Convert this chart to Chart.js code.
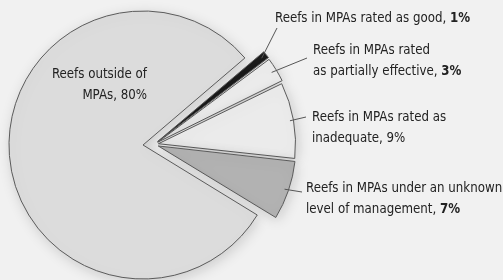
<!DOCTYPE html>
<html>
<head>
<meta charset="utf-8">
<script src="https://cdn.jsdelivr.net/npm/chart.js@4"></script>
<style>
  html, body { margin: 0; padding: 0; background: #f1f1f1; }
  #wrap { width: 503px; height: 280px; }
</style>
</head>
<body>
<div id="wrap"><canvas id="reefChart" width="503" height="280"></canvas></div>
<script>
// --- DATA ---
const categories = [
  "Reefs in MPAs rated as good",
  "Reefs in MPAs rated as partially effective",
  "Reefs in MPAs rated as inadequate",
  "Reefs in MPAs under an unknown level of management",
  "Reefs outside of MPAs"
];
const shares = [1, 3, 9, 7, 80];
const labelLines = [
  ["Reefs in MPAs rated as good, "],
  ["Reefs in MPAs rated", "as partially effective, "],
  ["Reefs in MPAs rated as", "inadequate, "],
  ["Reefs in MPAs under an unknown", "level of management, "],
  ["Reefs outside of", "MPAs, "]
];
const boldPercent = [true, true, false, true, false];

// --- STYLE ---
const sliceColors = ['#1e1e1e', '#ececec', '#ebebeb', '#b2b2b2', '#dcdcdc'];
const FONT = '"Liberation Sans Narrow", "DejaVu Sans Condensed", sans-serif';
const SQUEEZE = 0.94; // condensed look

// label anchor (x, first line center y, align) and leader end point
const labelPos = [
  { x: 275, y: 18, align: 'left', lead: [277, 28] },
  { x: 313, y: 50, align: 'left', lead: [307, 58] },
  { x: 312, y: 117, align: 'left', lead: [306, 117] },
  { x: 306, y: 188, align: 'left', lead: [302, 192] },
  { x: 147, y: 74, align: 'right', lead: null }
];

// move the four MPA slices out as one group
const explodeGroup = {
  id: 'explodeGroup',
  afterDatasetsUpdate(chart) {
    chart.getDatasetMeta(0).data.forEach((arc, i) => {
      if (i < 4) { arc.x += 11; arc.y -= 0.5; arc.outerRadius += 1; }
    });
  }
};

const softShadow = {
  id: 'softShadow',
  beforeDatasetsDraw(chart) {
    const ctx = chart.ctx;
    ctx.save();
    ctx.shadowColor = 'rgba(0,0,0,0.16)';
    ctx.shadowBlur = 14;
    ctx.shadowOffsetX = 2;
    ctx.shadowOffsetY = 3;
  },
  afterDatasetsDraw(chart) {
    chart.ctx.restore();
  }
};

function drawText(ctx, txt, x, y, bold) {
  ctx.font = (bold ? 'bold ' : '') + '14px ' + FONT;
  ctx.save();
  ctx.translate(x, y);
  ctx.scale(SQUEEZE, 1);
  ctx.fillText(txt, 0, 0);
  ctx.restore();
  return ctx.measureText(txt).width * SQUEEZE;
}

function textWidth(ctx, txt, bold) {
  ctx.font = (bold ? 'bold ' : '') + '14px ' + FONT;
  return ctx.measureText(txt).width * SQUEEZE;
}

const sliceLabels = {
  id: 'sliceLabels',
  afterDraw(chart) {
    const ctx = chart.ctx;
    const arcs = chart.getDatasetMeta(0).data;
    ctx.save();
    ctx.textBaseline = 'middle';
    ctx.fillStyle = '#222';
    ctx.strokeStyle = '#555';
    ctx.lineWidth = 1;
    labelLines.forEach((lines, i) => {
      const pos = labelPos[i];
      if (pos.lead) {
        const arc = arcs[i];
        const mid = (arc.startAngle + arc.endAngle) / 2;
        const r = arc.outerRadius + 3;
        ctx.beginPath();
        ctx.moveTo(arc.x + Math.cos(mid) * r, arc.y + Math.sin(mid) * r);
        ctx.lineTo(pos.lead[0], pos.lead[1]);
        ctx.stroke();
      }
      lines.forEach((txt, j) => {
        const y = pos.y + j * 21;
        const pct = j === lines.length - 1 ? shares[i] + '%' : '';
        const w = textWidth(ctx, txt, false) + textWidth(ctx, pct, boldPercent[i]);
        const x0 = pos.align === 'right' ? pos.x - w : pos.x;
        const w1 = drawText(ctx, txt, x0, y, false);
        if (pct) drawText(ctx, pct, x0 + w1, y, boldPercent[i]);
      });
    });
    ctx.restore();
  }
};

new Chart(document.getElementById('reefChart'), {
  type: 'pie',
  data: {
    labels: categories,
    datasets: [{
      data: shares,
      backgroundColor: sliceColors,
      borderColor: '#5a5a5a',
      borderWidth: 1,
      offset: [18, 18, 18, 18, 0]
    }]
  },
  options: {
    responsive: false,
    animation: false,
    events: [],
    rotation: 49.5,
    radius: 134,
    layout: { padding: { left: 0, right: 217, top: 10, bottom: 0 } },
    plugins: { legend: { display: false }, tooltip: { enabled: false } }
  },
  plugins: [explodeGroup, softShadow, sliceLabels]
});
</script>
</body>
</html>
